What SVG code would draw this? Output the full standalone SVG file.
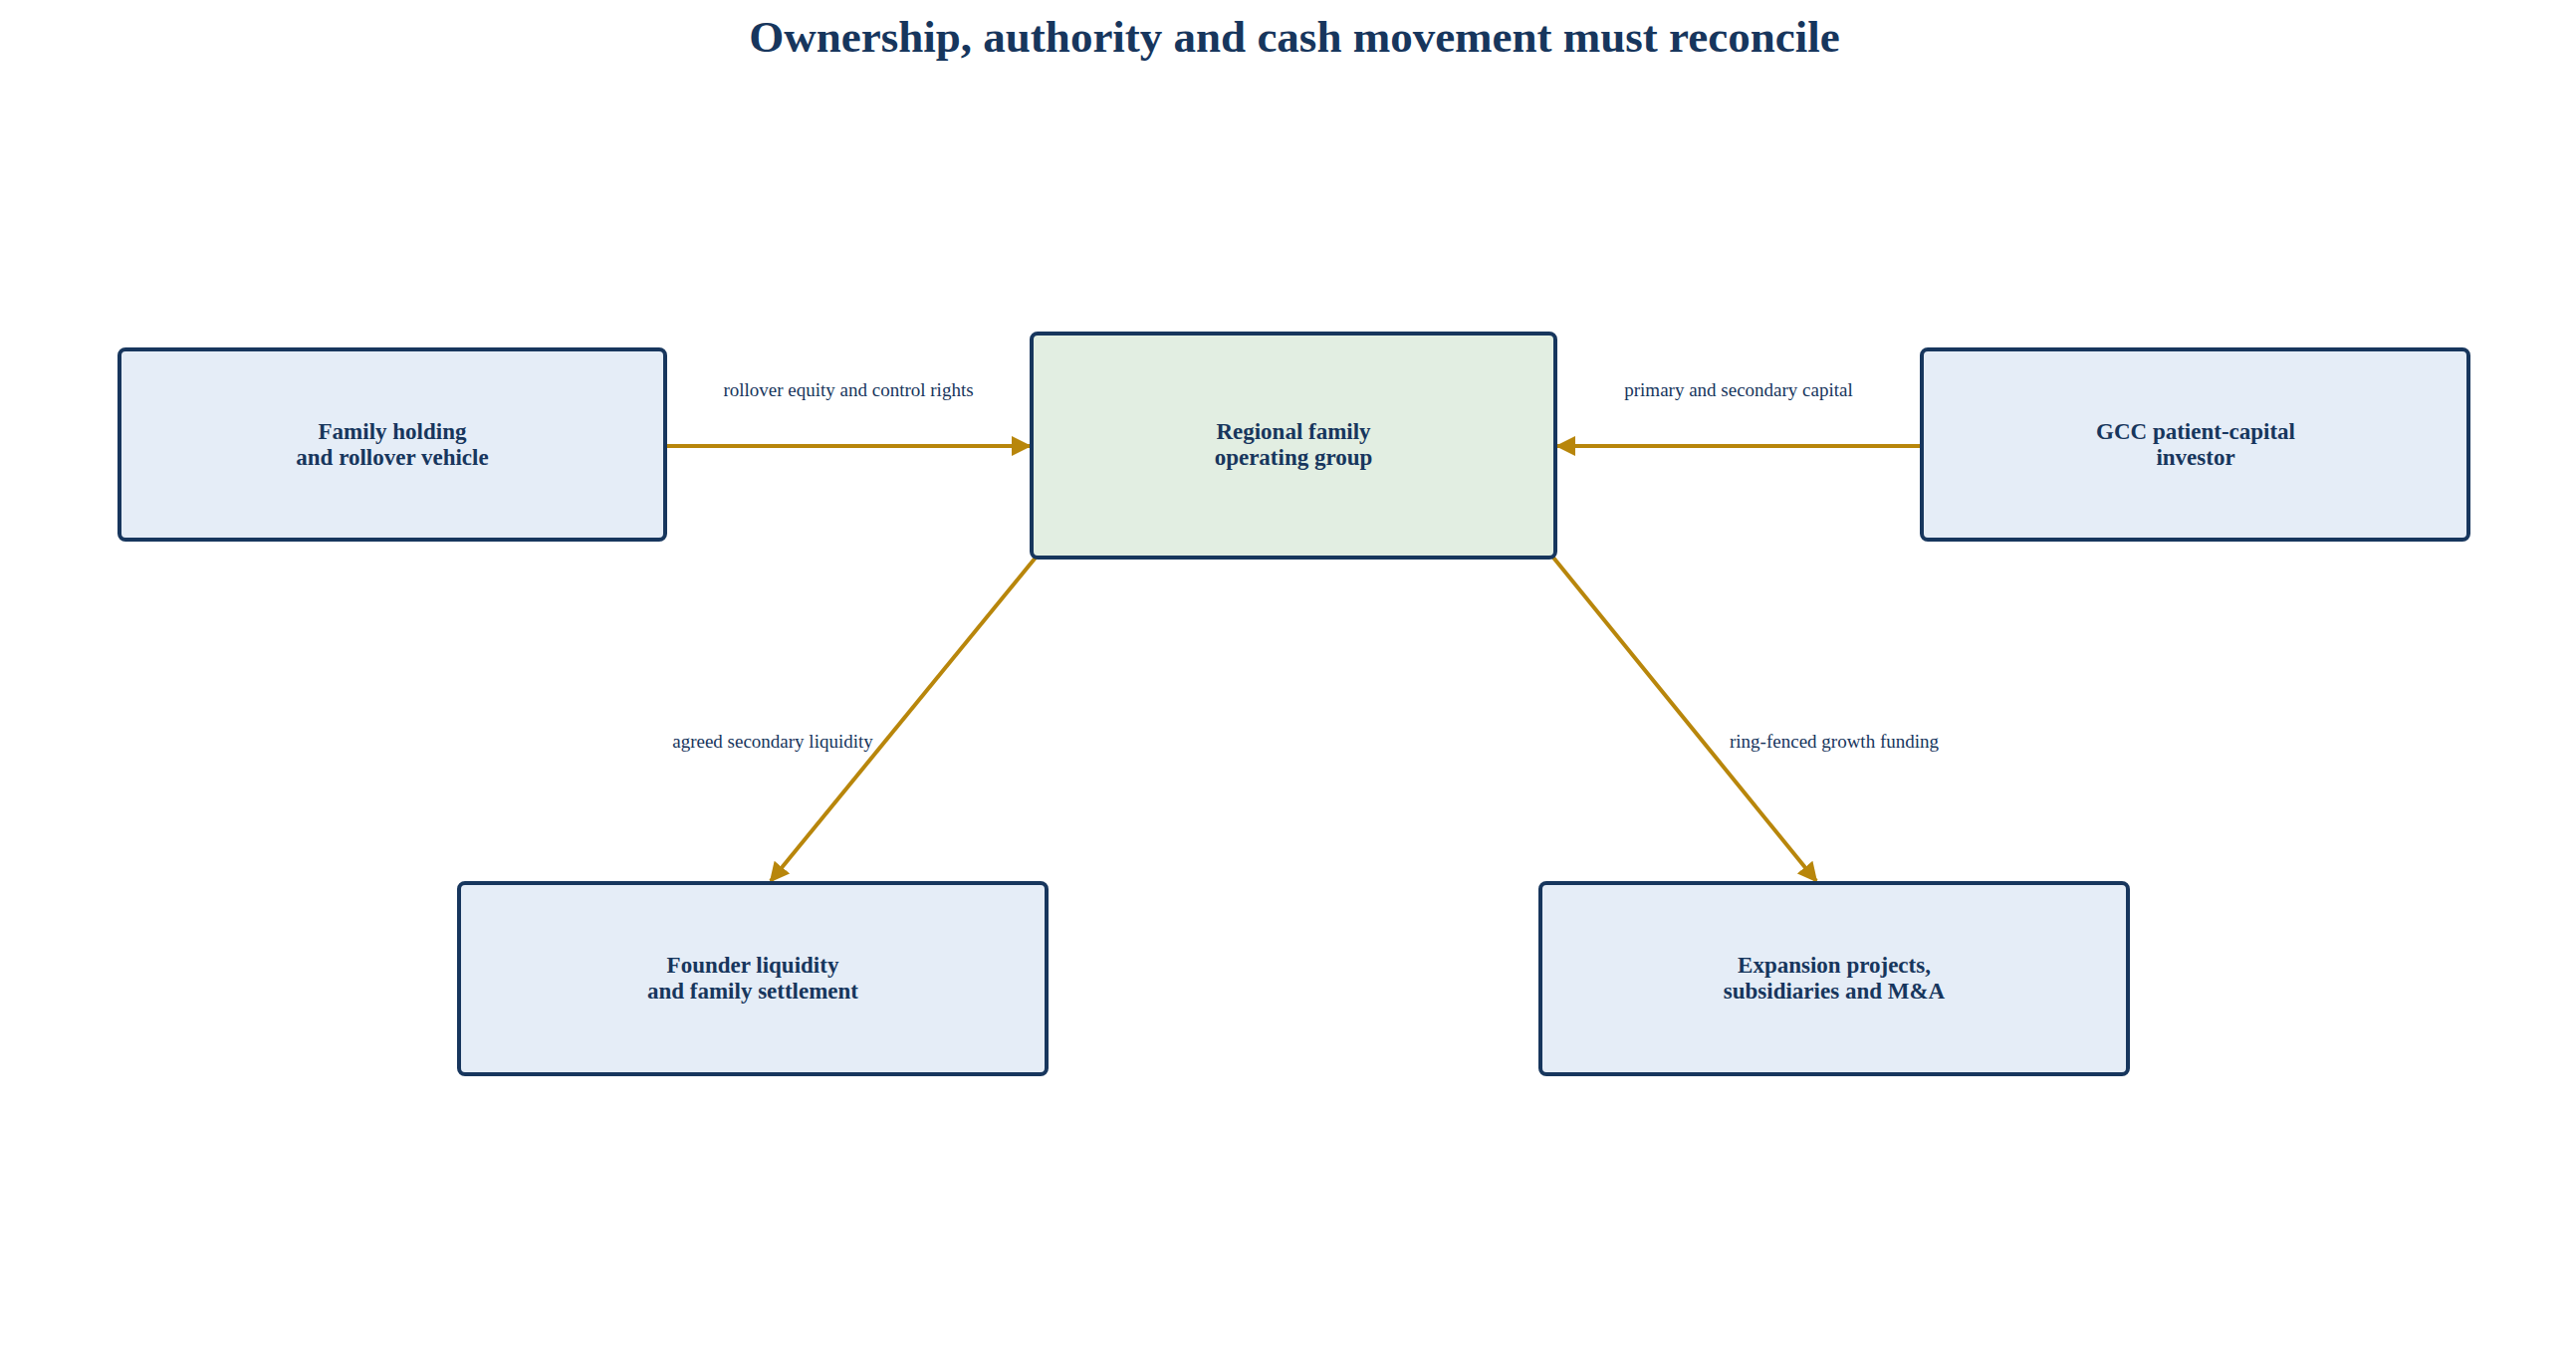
<svg xmlns="http://www.w3.org/2000/svg" width="2587" height="1356" viewBox="0 0 2587 1356">
<style>
.box{fill:#e5edf7;stroke:#17365d;stroke-width:4}
.hub{fill:#e2eee2;stroke:#17365d;stroke-width:4}
.t{font-family:"Liberation Serif",serif;font-weight:bold;font-size:23px;fill:#17365d;text-anchor:middle}
.l{font-family:"Liberation Serif",serif;font-size:19px;fill:#17365d;text-anchor:middle}
.e{stroke:#b8860b;stroke-width:4;fill:none;marker-end:url(#a)}
</style>
<defs><marker id="a" viewBox="0 0 10 10" refX="9" refY="5" markerWidth="5" markerHeight="5" orient="auto" markerUnits="strokeWidth"><path d="M0,0L10,5L0,10z" fill="#b8860b"/></marker></defs>
<rect width="2587" height="1356" fill="#fff"/>
<text x="1300" y="52" font-family="Liberation Serif,serif" font-weight="bold" font-size="45" fill="#17365d" text-anchor="middle">Ownership, authority and cash movement must reconcile</text>
<g id="edges">
<line class="e" x1="668" y1="448" x2="1034" y2="448"/>
<line class="e" x1="1930" y1="448" x2="1564" y2="448"/>
<line class="e" x1="1040" y1="560" x2="774" y2="885"/>
<line class="e" x1="1560" y1="560" x2="1824" y2="885"/>
<text class="l" x="852" y="398">rollover equity and control rights</text>
<text class="l" x="1746" y="398">primary and secondary capital</text>
<text class="l" x="776" y="751">agreed secondary liquidity</text>
<text class="l" x="1842" y="751">ring-fenced growth funding</text>
</g>
<g id="family"><rect class="box" x="120" y="351" width="548" height="191" rx="6"/><text class="t" x="394" y="441">Family holding</text><text class="t" x="394" y="467">and rollover vehicle</text></g>
<g id="hub"><rect class="hub" x="1036" y="335" width="526" height="225" rx="6"/><text class="t" x="1299" y="441">Regional family</text><text class="t" x="1299" y="467">operating group</text></g>
<g id="gcc"><rect class="box" x="1930" y="351" width="549" height="191" rx="6"/><text class="t" x="2205" y="441">GCC patient-capital</text><text class="t" x="2205" y="467">investor</text></g>
<g id="founder"><rect class="box" x="461" y="887" width="590" height="192" rx="6"/><text class="t" x="756" y="977">Founder liquidity</text><text class="t" x="756" y="1003">and family settlement</text></g>
<g id="expansion"><rect class="box" x="1547" y="887" width="590" height="192" rx="6"/><text class="t" x="1842" y="977">Expansion projects,</text><text class="t" x="1842" y="1003">subsidiaries and M&amp;A</text></g>
</svg>
